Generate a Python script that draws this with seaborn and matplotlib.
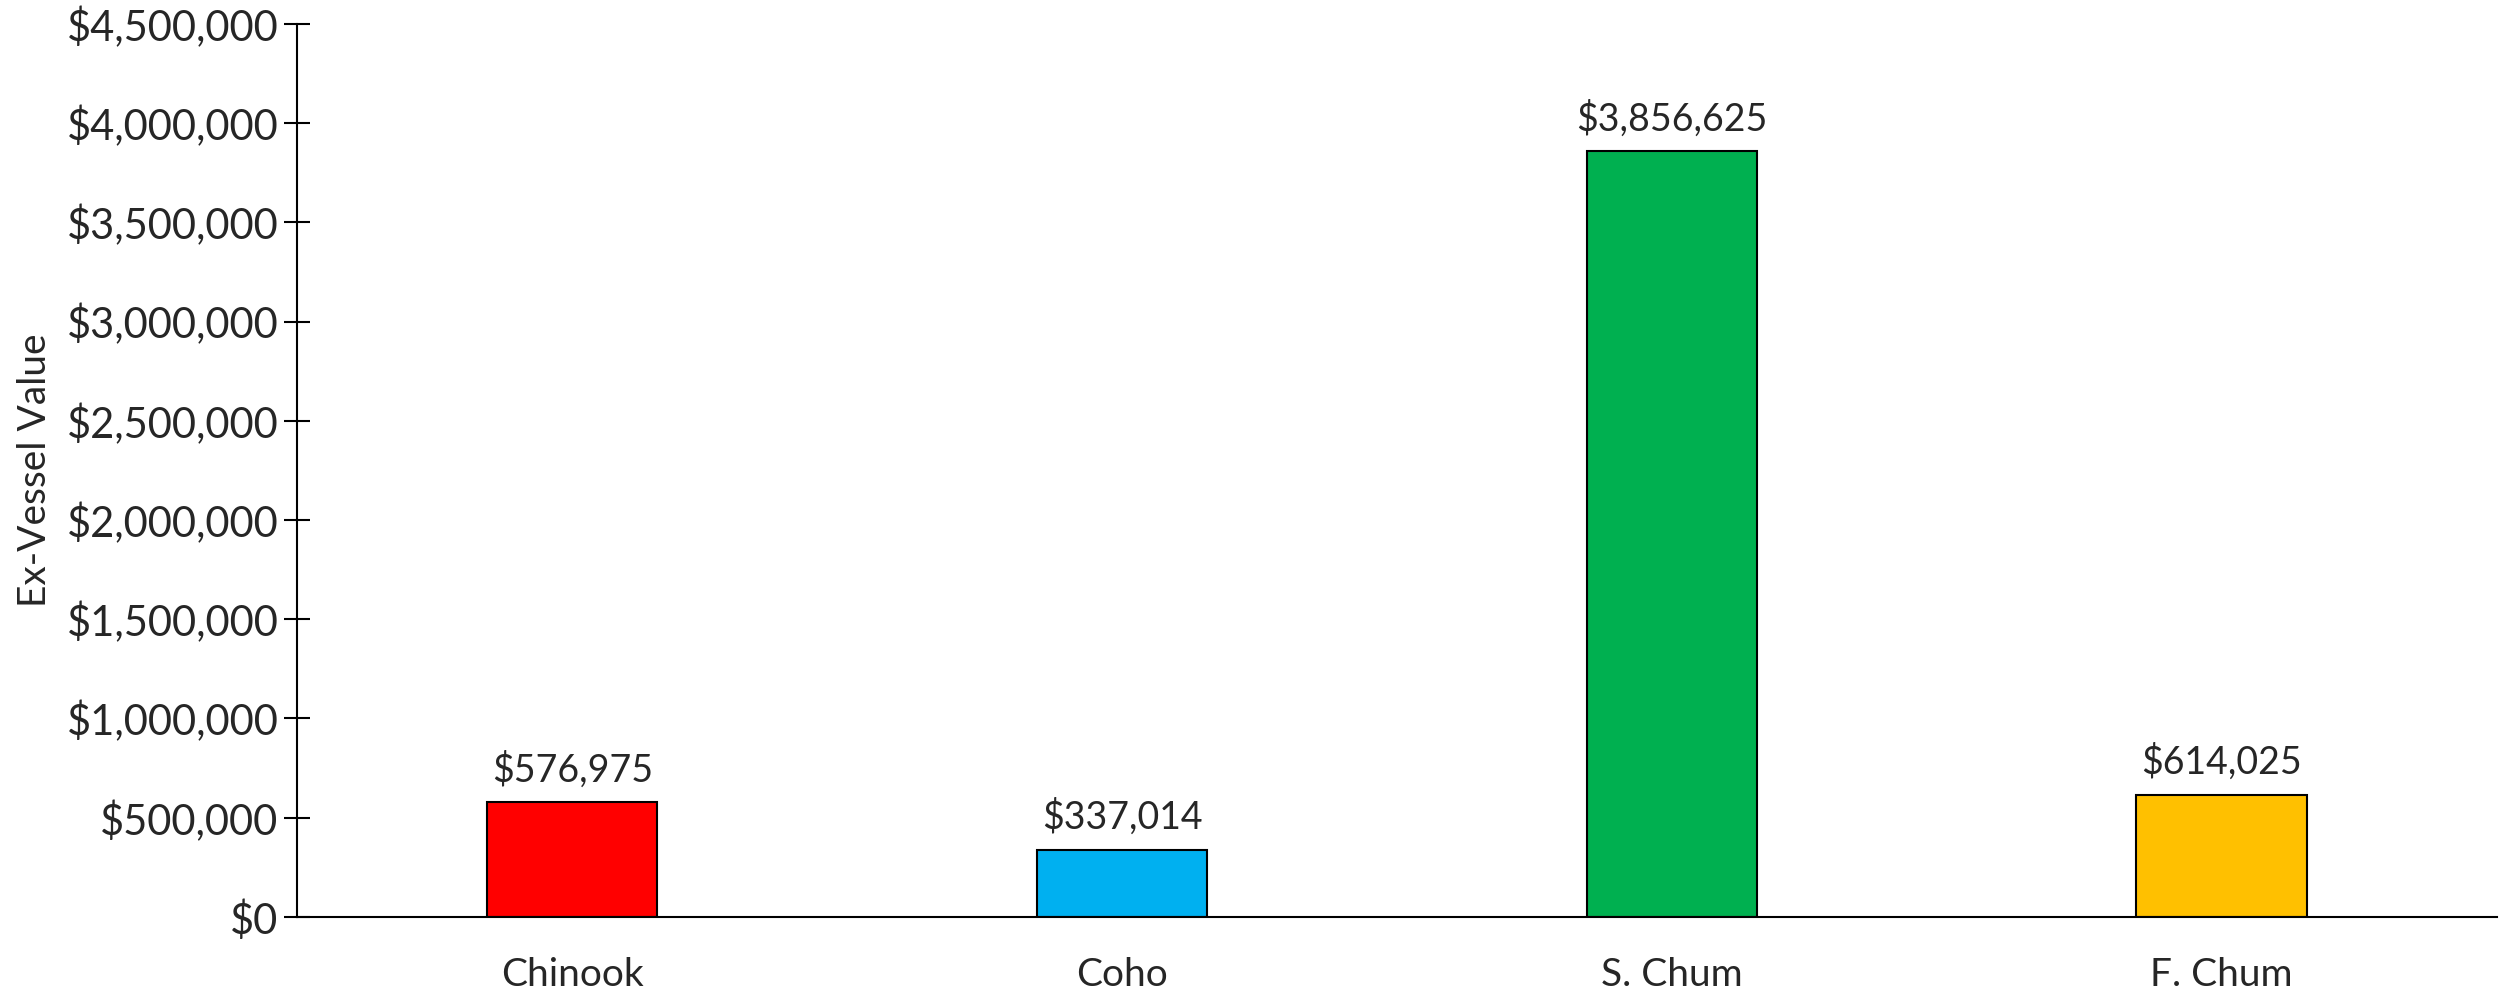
import seaborn as sns
import matplotlib.pyplot as plt
import matplotlib.ticker as mticker
import pandas as pd

# Chart data
species = ["Chinook", "Coho", "S. Chum", "F. Chum"]
values = [576975, 337014, 3856625, 614025]
colors = ["#FF0000", "#00B0F0", "#00B050", "#FFC000"]

df = pd.DataFrame({"Species": species, "Value": values})

sns.set_style("white")
plt.rcParams['font.family'] = ['Lato', 'DejaVu Sans']

fig = plt.figure(figsize=(24.99, 9.91), dpi=100)
ax = fig.add_axes([0.119, 0.0747, 0.880, 0.9013])

sns.barplot(data=df, x="Species", y="Value", hue="Species", palette=colors,
            saturation=1, width=0.31, edgecolor="black", linewidth=1.5,
            legend=False, ax=ax)

# Value labels above bars
for cont in ax.containers:
    ax.bar_label(cont, labels=[f"${v:,.0f}" for v in cont.datavalues],
                 padding=10, fontsize=27)

ax.set_ylim(0, 4500000)
ax.set_xlim(-0.5, 3.5)
ax.yaxis.set_major_locator(mticker.MultipleLocator(500000))
ax.yaxis.set_major_formatter(mticker.FuncFormatter(lambda v, p: f"${v:,.0f}"))

# category boundary ticks on x, labels at the centres
ax.set_xticks([-0.5, 0.5, 1.5, 2.5], minor=True)
ax.tick_params(axis="x", which="minor", direction="inout", length=19, width=1.5, color="black")
ax.tick_params(axis="x", which="major", length=0, pad=29, labelsize=28)
ax.tick_params(axis="y", direction="inout", length=19, width=1.5, color="black",
               pad=4, labelsize=30, left=True)

ax.set_xlabel("")
ax.set_ylabel("Ex-Vessel Value", fontsize=28, labelpad=10)

for side in ["top", "right"]:
    ax.spines[side].set_visible(False)
for side in ["left", "bottom"]:
    ax.spines[side].set_color("black")
    ax.spines[side].set_linewidth(1.5)

fig.savefig("out.png", dpi=100)
